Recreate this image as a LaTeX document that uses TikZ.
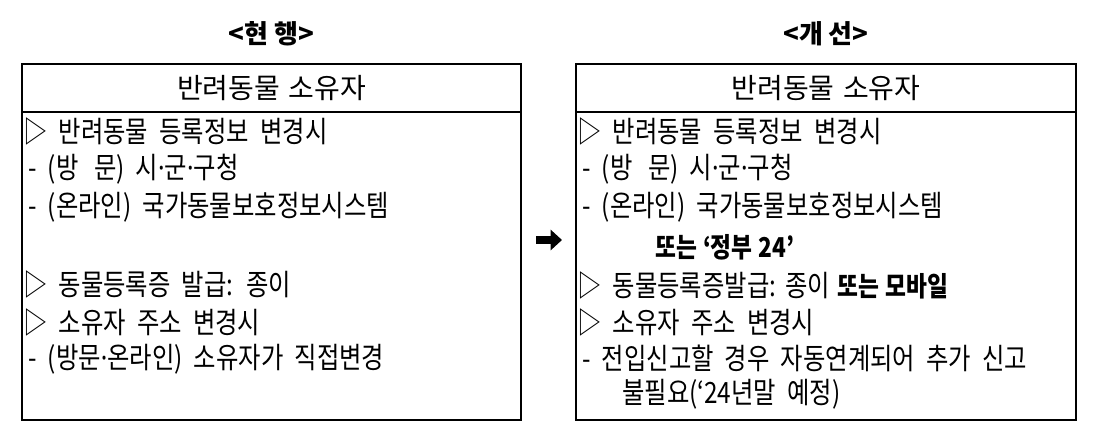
\documentclass[tikz,border=0pt]{standalone}
\usepackage{fontspec}
\setmainfont{Noto Sans CJK KR}
\newfontfamily\bodyfont{Noto Sans CJK KR}[FakeStretch=0.83]
\newfontfamily\dotfont{Noto Sans}[FakeStretch=0.83]
\usetikzlibrary{positioning,arrows.meta}
\tikzset{>=Triangle}
\newcommand*{\entrysize}{\bodyfont\fontsize{22}{26}\selectfont\spaceskip 0.38em\relax}
\newcommand*{\headsize}{\fontsize{21}{25}\selectfont\spaceskip 0.3em\relax}
\tikzset{
  box/.style={line width=1.6pt},
  entry/.style={anchor=west,inner sep=0pt,font=\entrysize},
  head/.style={inner sep=0pt,font=\headsize},
  title/.style={inner sep=0pt,font=\fontsize{19.5}{23}\selectfont\bfseries}
}
\newcommand*{\bold}[1]{{\fontsize{20.5}{24}\selectfont\bfseries\spaceskip 0.22em\relax #1}}
\newcommand*{\tight}{\spaceskip 0.25em\relax}
\newcommand*{\md}{{\dotfont ·}}

\begin{document}
\begin{tikzpicture}[x=0.75pt,y=-0.75pt]
\useasboundingbox (0,0) rectangle (1097,443);
% left box
\coordinate (Lnw) at (22,64);
\coordinate (Lse) at (521,420);
\coordinate (Lhw) at (22,112);
\coordinate (Lhe) at (521,112);
\draw[box] (Lnw) rectangle (Lse);
\draw[box] (Lhw) -- (Lhe);
\node[title] (Ltitle) at (271.5,34) {<현 행>};
\node[head] (Lhead) at (271.5,88) {반려동물 소유자};
\node[entry] (L1) at (23,131) {▷ 반려동물 등록정보 변경시};
\node[entry] (L2) at (28,169) {- (방\hspace{0.15em} 문) 시\md 군\md 구청};
\node[entry] (L3) at (28,207) {- (온라인) 국가동물보호정보시스템};
\node[entry] (L4) at (23,284) {▷ 동물등록증 발급: 종이};
\node[entry] (L5) at (23,322) {▷ 소유자 주소 변경시};
\node[entry] (L6) at (28,359) {- (방문\md 온라인) 소유자가 직접변경};
% right box
\coordinate (Rnw) at (576,64);
\coordinate (Rse) at (1076,420);
\coordinate (Rhw) at (576,112);
\coordinate (Rhe) at (1076,112);
\draw[box] (Rnw) rectangle (Rse);
\draw[box] (Rhw) -- (Rhe);
\node[title] (Rtitle) at (826,34) {<개 선>};
\node[head] (Rhead) at (826,88) {반려동물 소유자};
\node[entry] (R1) at (577,131) {▷ 반려동물 등록정보 변경시};
\node[entry] (R2) at (582,169) {- (방\hspace{0.15em} 문) 시\md 군\md 구청};
\node[entry] (R3) at (582,207) {- (온라인) 국가동물보호정보시스템};
\node[entry] (R4) at (655,247) {\bold{또는 ‘정부 24’}};
\node[entry] (R5) at (577,285) {▷ {\tight 동물등록증발급: 종이 \bold{또는 모바일}}};
\node[entry] (R6) at (577,322) {▷ 소유자 주소 변경시};
\node[entry] (R7) at (582,358) {- 전입신고할 경우 자동연계되어 추가 신고};
\node[entry] (R8) at (622,394) {불필요(‘24년말 예정)};
% arrow between
\coordinate (a1) at (536,240);
\coordinate (a2) at (562,240);
\draw[line width=6.5pt,-{Triangle[length=8.5pt,width=15pt]}] (a1) -- (a2);
\end{tikzpicture}
\end{document}
